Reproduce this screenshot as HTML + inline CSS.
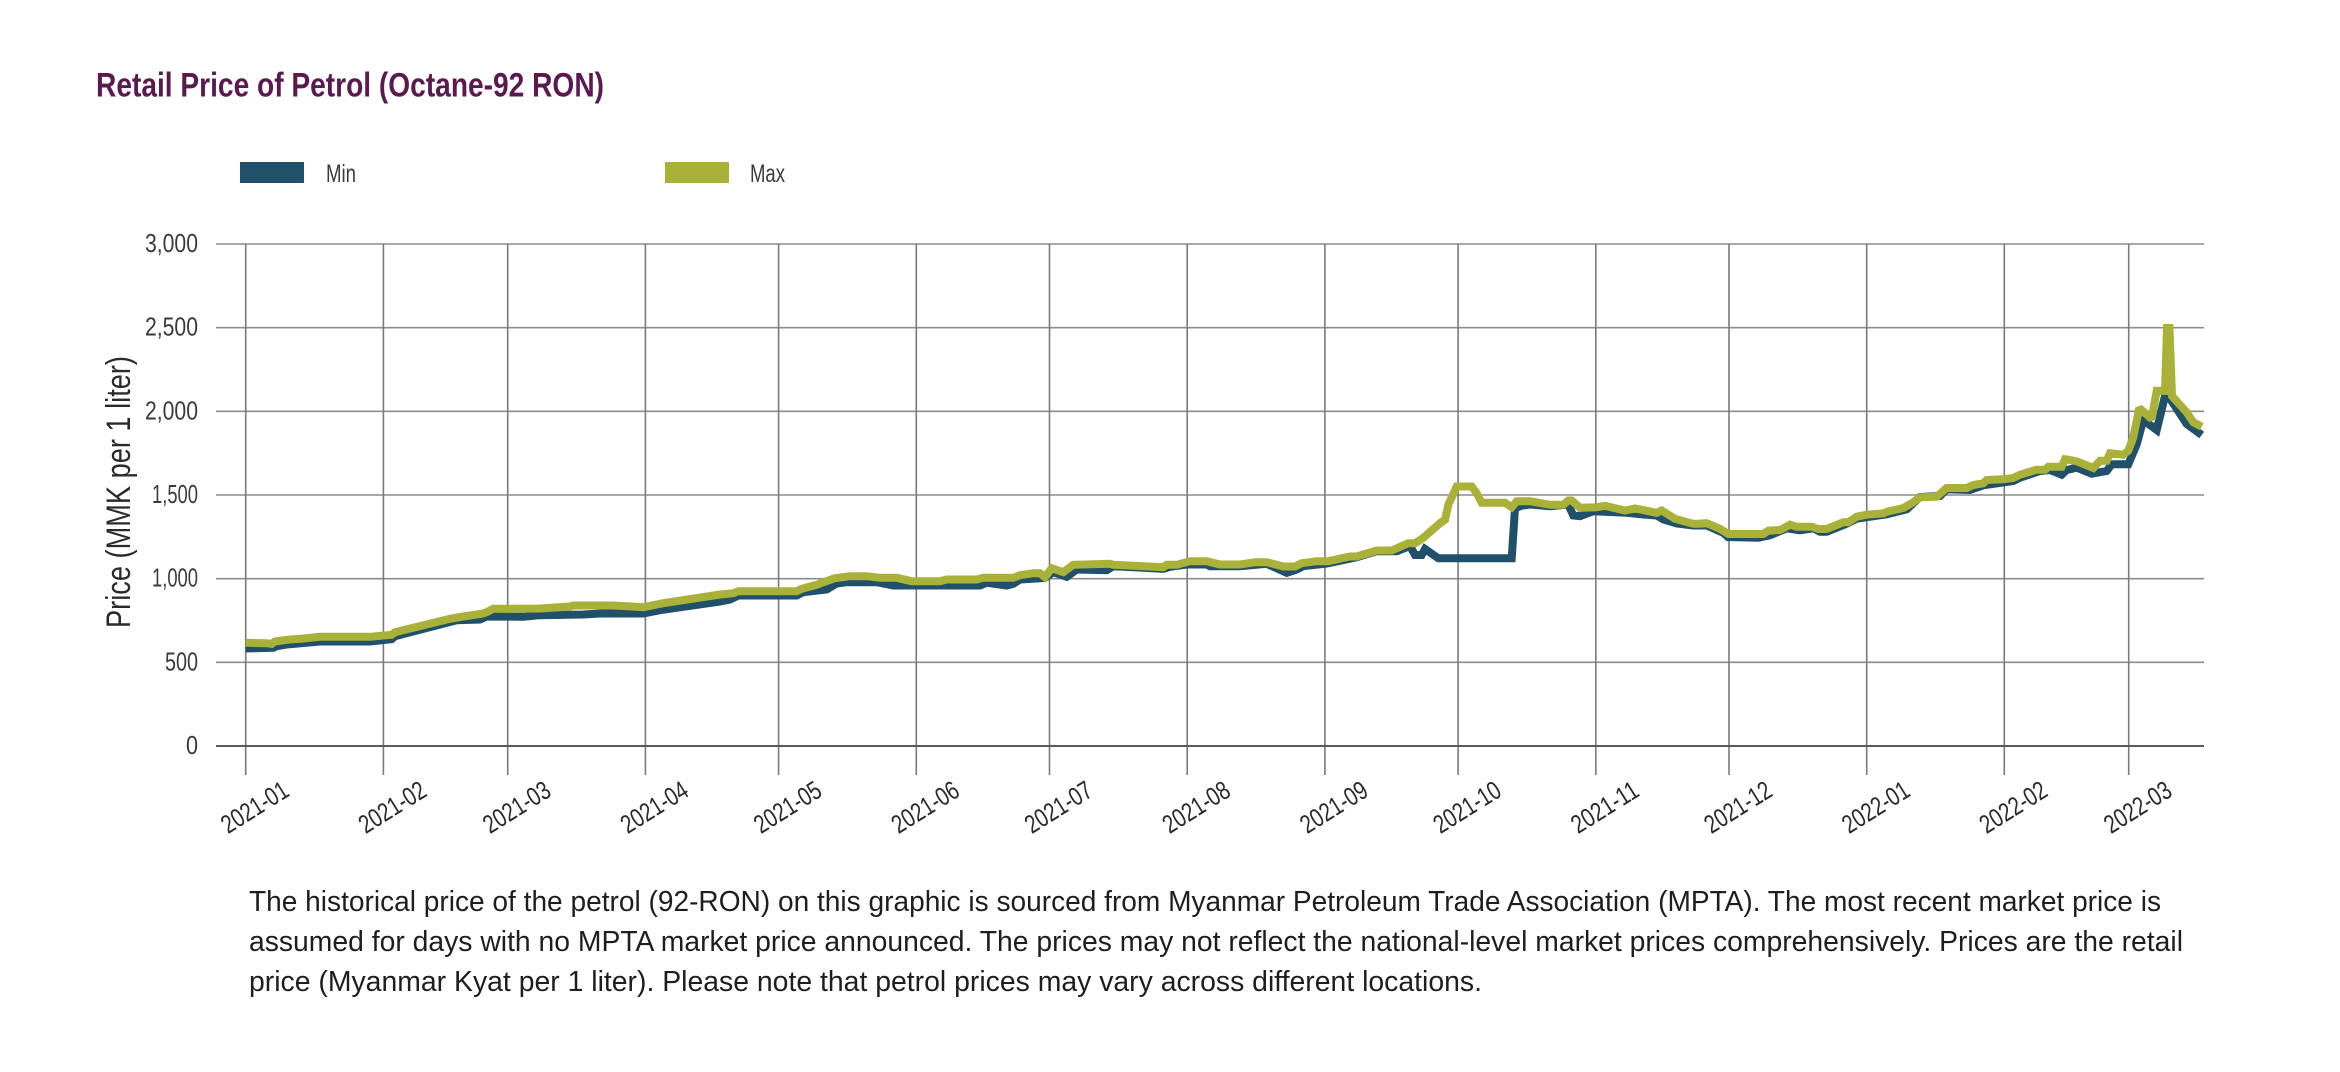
<!DOCTYPE html>
<html>
<head>
<meta charset="utf-8">
<style>
  html,body{margin:0;padding:0;background:#ffffff;}
  svg{display:block;}
  .t{font-family:"Liberation Sans Narrow","Liberation Sans",sans-serif;}
</style>
</head>
<body>
<svg width="2340" height="1072" viewBox="0 0 2340 1072" xmlns="http://www.w3.org/2000/svg">
  <rect x="0" y="0" width="2340" height="1072" fill="#ffffff"/>

  <!-- Title -->
  <text class="t" x="96" y="96.5" font-size="34.5" font-weight="bold" fill="#5a1a50" textLength="508" lengthAdjust="spacingAndGlyphs">Retail Price of Petrol (Octane-92 RON)</text>

  <!-- Legend -->
  <rect x="240" y="162" width="64" height="21" fill="#21506a"/>
  <text class="t" x="326" y="182" font-size="25" fill="#3a3a3a" textLength="30" lengthAdjust="spacingAndGlyphs">Min</text>
  <rect x="665" y="162" width="64" height="21" fill="#a9b138"/>
  <text class="t" x="750" y="182" font-size="25" fill="#3a3a3a" textLength="35" lengthAdjust="spacingAndGlyphs">Max</text>

  <!-- Horizontal gridlines -->
  <g stroke="#8c8c8c" stroke-width="1.6" fill="none">
    <line x1="216" y1="244" x2="2204" y2="244"/>
    <line x1="216" y1="327.7" x2="2204" y2="327.7"/>
    <line x1="216" y1="411.3" x2="2204" y2="411.3"/>
    <line x1="216" y1="495" x2="2204" y2="495"/>
    <line x1="216" y1="578.7" x2="2204" y2="578.7"/>
    <line x1="216" y1="662.3" x2="2204" y2="662.3"/>
  </g>

  <!-- Vertical gridlines -->
  <g stroke="#7a7a7a" stroke-width="1.6" fill="none">
    <line x1="245.7" y1="244" x2="245.7" y2="775"/>
    <line x1="383.4" y1="244" x2="383.4" y2="775"/>
    <line x1="507.7" y1="244" x2="507.7" y2="775"/>
    <line x1="645.4" y1="244" x2="645.4" y2="775"/>
    <line x1="778.6" y1="244" x2="778.6" y2="775"/>
    <line x1="916.3" y1="244" x2="916.3" y2="775"/>
    <line x1="1049.5" y1="244" x2="1049.5" y2="775"/>
    <line x1="1187.2" y1="244" x2="1187.2" y2="775"/>
    <line x1="1324.9" y1="244" x2="1324.9" y2="775"/>
    <line x1="1458.1" y1="244" x2="1458.1" y2="775"/>
    <line x1="1595.8" y1="244" x2="1595.8" y2="775"/>
    <line x1="1729" y1="244" x2="1729" y2="775"/>
    <line x1="1866.7" y1="244" x2="1866.7" y2="775"/>
    <line x1="2004.3" y1="244" x2="2004.3" y2="775"/>
    <line x1="2128.7" y1="244" x2="2128.7" y2="775"/>
  </g>

  <!-- Zero line -->
  <line x1="216" y1="746" x2="2204" y2="746" stroke="#5a5a5a" stroke-width="2"/>

  <!-- Y tick labels -->
  <g class="t" font-size="26" fill="#3a3a3a" text-anchor="end">
    <text x="198" y="252" textLength="53" lengthAdjust="spacingAndGlyphs">3,000</text>
    <text x="198" y="335.7" textLength="53" lengthAdjust="spacingAndGlyphs">2,500</text>
    <text x="198" y="419.3" textLength="53" lengthAdjust="spacingAndGlyphs">2,000</text>
    <text x="198" y="503" textLength="46" lengthAdjust="spacingAndGlyphs">1,500</text>
    <text x="198" y="586.7" textLength="46" lengthAdjust="spacingAndGlyphs">1,000</text>
    <text x="198" y="670.3" textLength="33" lengthAdjust="spacingAndGlyphs">500</text>
    <text x="198" y="754" textLength="12" lengthAdjust="spacingAndGlyphs">0</text>
  </g>

  <!-- Y axis title -->
  <text class="t" transform="translate(130,492) rotate(-90)" text-anchor="middle" font-size="34" fill="#2a2a2a" textLength="272" lengthAdjust="spacingAndGlyphs">Price (MMK per 1 liter)</text>

  <!-- X tick labels -->
  <g class="t" font-size="26" fill="#2a2a2a" text-anchor="end">
    <text transform="translate(290.7,795) rotate(-32)" textLength="74" lengthAdjust="spacingAndGlyphs">2021-01</text>
    <text transform="translate(428.4,795) rotate(-32)" textLength="74" lengthAdjust="spacingAndGlyphs">2021-02</text>
    <text transform="translate(552.7,795) rotate(-32)" textLength="74" lengthAdjust="spacingAndGlyphs">2021-03</text>
    <text transform="translate(690.4,795) rotate(-32)" textLength="74" lengthAdjust="spacingAndGlyphs">2021-04</text>
    <text transform="translate(823.6,795) rotate(-32)" textLength="74" lengthAdjust="spacingAndGlyphs">2021-05</text>
    <text transform="translate(961.3,795) rotate(-32)" textLength="74" lengthAdjust="spacingAndGlyphs">2021-06</text>
    <text transform="translate(1094.5,795) rotate(-32)" textLength="74" lengthAdjust="spacingAndGlyphs">2021-07</text>
    <text transform="translate(1232.2,795) rotate(-32)" textLength="74" lengthAdjust="spacingAndGlyphs">2021-08</text>
    <text transform="translate(1369.9,795) rotate(-32)" textLength="74" lengthAdjust="spacingAndGlyphs">2021-09</text>
    <text transform="translate(1503.1,795) rotate(-32)" textLength="74" lengthAdjust="spacingAndGlyphs">2021-10</text>
    <text transform="translate(1640.8,795) rotate(-32)" textLength="74" lengthAdjust="spacingAndGlyphs">2021-11</text>
    <text transform="translate(1774,795) rotate(-32)" textLength="74" lengthAdjust="spacingAndGlyphs">2021-12</text>
    <text transform="translate(1911.7,795) rotate(-32)" textLength="74" lengthAdjust="spacingAndGlyphs">2022-01</text>
    <text transform="translate(2049.3,795) rotate(-32)" textLength="74" lengthAdjust="spacingAndGlyphs">2022-02</text>
    <text transform="translate(2173.7,795) rotate(-32)" textLength="74" lengthAdjust="spacingAndGlyphs">2022-03</text>
  </g>

  <!-- Min series -->
  <polyline fill="none" stroke="#21506a" stroke-width="8" stroke-linejoin="miter" stroke-miterlimit="2" stroke-linecap="butt"
    points="245.7,648.5 273.3,647.8 276.7,646.2 286.7,644.5 320,641.5 370,641.5 391.7,639.2 395,636.2 456.7,620.2 480,619.5 486.7,616.5 523.3,616.8 540,615.2 583.3,614.5 600,613.5 643.3,613.5 660,610.2 720,601.5 730,599.5 738.3,595.5 796.7,595.5 803.3,592.2 826.7,589.5 836.7,583.5 846.7,582.2 876.7,582.2 893.3,585.5 980,585.5 986.7,582.8 1006.7,585.5 1013.3,583.8 1020,579.5 1040,578.2 1045,577.8 1053.3,572.2 1066.7,576.8 1076.7,569.5 1106.7,570.2 1113.3,566.2 1163.3,568.8 1170,566.8 1186.7,564.5 1206.7,564.5 1210,566.2 1240,566.2 1266.7,563.8 1286.7,572.8 1296.7,569.5 1303.3,566.2 1326.7,563.5 1356.7,557.2 1376.7,551.2 1396.7,551.2 1410,546 1415,555 1421.7,555 1425,549 1438.3,558.3 1511.7,558.3 1515,508.3 1521.7,505.7 1530,504.5 1550,506.2 1568.3,504.5 1573.3,515.5 1580,516.2 1593.3,511.2 1626.7,512.8 1643.3,514.5 1656.7,515.5 1663.3,519.5 1676.7,523.5 1693.3,525.5 1706.7,525.5 1723.3,532.8 1728,537 1758.3,537.7 1770,535.3 1786.7,528.3 1800,530.3 1813.3,528.3 1820,531.7 1826.7,531.7 1846.7,523.7 1856.7,518.7 1886.7,514.3 1906.7,509.3 1920,497 1940,496 1946.7,489.3 1970,490 1983.3,485.3 2013.3,481 2020,477.7 2040,471 2050,470 2061.7,474.7 2066.7,470 2076.7,467.7 2091.7,473.7 2106.7,471 2111.7,464.3 2128.3,464.3 2136.7,444.3 2143.3,420 2156.7,430 2165,396 2168.3,396 2186.7,424 2201.7,435"/>

  <!-- Max series -->
  <polyline fill="none" stroke="#a9b138" stroke-width="8" stroke-linejoin="miter" stroke-miterlimit="2" stroke-linecap="butt"
    points="245.7,642.8 266.7,643.2 271.7,643.8 275,641.5 286.7,639.8 303.3,638.5 320,636.8 370,636.8 391.7,634.8 395,632.2 450,618.8 463.3,616.5 481.7,613.8 486.7,612.2 493.3,608.8 540,608.5 570,606.5 573.3,605.5 613.3,605.5 643.3,607.2 663.3,603.2 720,594.5 733.3,593.2 738.3,591.2 796.7,591.2 801.7,588.8 816.7,584.8 823.3,582.2 835,578.2 850,576.2 866.7,576.2 880,577.8 896.7,577.8 911.7,581.2 940,581.2 946.7,579.5 976.7,579.5 983.3,577.8 1013.3,577.8 1020,575.2 1033.3,573.2 1040,573.2 1045,577.2 1051.7,568.2 1063.3,572.2 1073.3,564.8 1110,563.8 1113.3,564.8 1163.3,567.2 1166.7,564.8 1176.7,564.8 1190,561.2 1206.7,561.2 1220,564.5 1240,564.5 1255,562.2 1266.7,562.2 1283.3,566.5 1295,566.5 1301.7,563.2 1316.7,561.2 1328.3,561.2 1350,556.5 1356.7,556.5 1376.7,550.5 1391.7,550.5 1408.3,543.2 1415,543.2 1423.3,537.8 1440,523.2 1445,519.8 1448.3,504.8 1456.7,486.5 1471.7,486.5 1476.7,493.2 1481.7,502.8 1505,502.8 1511.7,507.2 1516.7,501.2 1530,501.2 1550,504.8 1563.3,504.8 1568.3,500.5 1571.7,500.5 1580,507.8 1596.7,507.2 1605,505.8 1625,510.5 1635,508.5 1656.7,512.8 1661.7,510.5 1675,518.8 1693.3,523.8 1698.3,523.8 1706.7,523.2 1720,528.8 1728.3,534 1763.3,534 1768.3,530.7 1780,530 1790,524.7 1796.7,526.7 1811.7,526.7 1818.3,529 1826.7,529 1843.3,522.3 1848.3,522.3 1856.7,516.7 1866.7,514.7 1883.3,513.3 1888.3,511.3 1903.3,508 1911.7,503.3 1920,497.3 1936.7,496.7 1946.7,488 1966.7,488 1973.3,485 1983.3,483.3 1986.7,480 2003.3,479.3 2013.3,478 2020,474.7 2036.7,469.7 2045,469.7 2048.3,466.7 2061.7,466.7 2065,459.3 2070,460 2076.7,461.3 2093.3,468 2100,460.7 2106.7,460.7 2110,453.3 2123.3,454.7 2128.3,450.7 2133.3,437.3 2139.3,408 2151.7,419 2156.7,390.7 2165,391 2167,328 2169.5,328 2172,396 2186.7,412.3 2193.3,422.3 2201.7,426.7"/>

  <!-- Footnote -->
  <g class="t" font-size="28.5" fill="#1e1e1e">
    <text x="249" y="911" textLength="1912" lengthAdjust="spacingAndGlyphs">The historical price of the petrol (92-RON) on this graphic is sourced from Myanmar Petroleum Trade Association (MPTA). The most recent market price is</text>
    <text x="249" y="951" textLength="1934" lengthAdjust="spacingAndGlyphs">assumed for days with no MPTA market price announced. The prices may not reflect the national-level market prices comprehensively. Prices are the retail</text>
    <text x="249" y="991" textLength="1233" lengthAdjust="spacingAndGlyphs">price (Myanmar Kyat per 1 liter). Please note that petrol prices may vary across different locations.</text>
  </g>
</svg>
</body>
</html>
